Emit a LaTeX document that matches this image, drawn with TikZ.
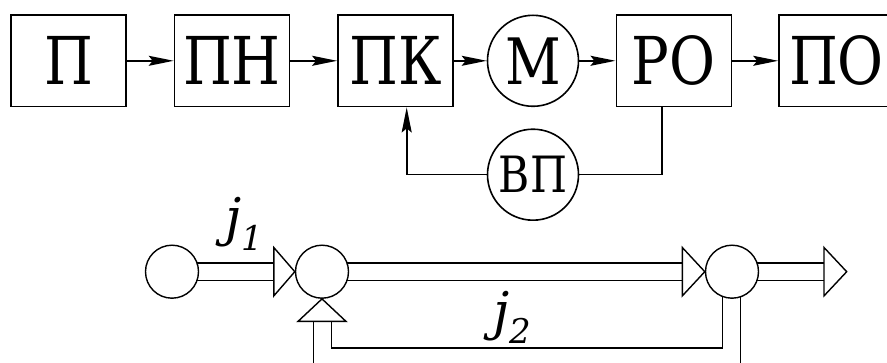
\documentclass[tikz,border=0pt]{standalone}
\usepackage{fontspec}
\setmainfont{DejaVu Serif}
\usetikzlibrary{arrows.meta,backgrounds}
\newcommand{\vstr}[1]{\scalebox{0.85}[1.0]{#1}}
\tikzset{
  blk/.style={draw, line width=1.6pt, minimum width=115pt, minimum height=91.7pt, inner sep=0pt,
              font=\fontsize{66}{66}\selectfont},
  rnd/.style={draw, circle, line width=1.6pt, minimum size=91pt, inner sep=0pt},
  sig/.style={line width=1.6pt, -{Stealth[length=25pt,width=10pt,inset=4pt]}},
  ln/.style={line width=1.4pt},
  dot/.style={draw, circle, line width=1.4pt, minimum size=53pt, inner sep=0pt, fill=white},
  tri/.style={draw, line width=1.4pt, fill=white, line join=miter},
  jlbl/.style={font=\fontsize{52}{52}\selectfont\itshape, anchor=base west, inner sep=0pt}
}
\begin{document}
\begin{tikzpicture}[x=1pt,y=-1pt]
\useasboundingbox (0,0) rectangle (887,363);
% top row
\node[blk] (p)  at (68.5,60.8) {\vstr{П}};
\node[blk] (pn) at (232,60.8) {\vstr{ПН}};
\node[blk] (pk) at (395.4,60.8) {\vstr{ПК}};
\node[rnd, font=\fontsize{64}{64}\selectfont] (m) at (533,60.8) {\vstr{М}};
\node[blk] (ro) at (673.8,60.8) {\vstr{РО}};
\node[blk] (po) at (836.5,60.8) {\vstr{ПО}};
\node[rnd, font=\fontsize{50}{50}\selectfont] (vp) at (533,174.7) {\vstr{ВП}};
\draw[sig] (p) -- (pn);
\draw[sig] (pn) -- (pk);
\draw[sig] (pk) -- (m);
\draw[sig] (m) -- (ro);
\draw[sig] (ro) -- (po);
\draw[line width=1.6pt] ([xshift=-11.8pt]ro.south) |- (vp.east);
\draw[sig] (vp.west) -| ([xshift=11.3pt]pk.south);
% bottom graph
\node[dot] (c1) at (172,271.7) {};
\node[dot] (c2) at (322,271.7) {};
\node[dot] (c3) at (732,271.7) {};
\coordinate (t1b) at ([xshift=-21pt]c2.west);
\coordinate (t2b) at ([xshift=-22.5pt]c3.west);
\coordinate (t3b) at (824,271.7);
\coordinate (t3t) at (846.7,271.7);
\coordinate (t4b) at ([yshift=-22.5pt]c2.south);
\begin{pgfonlayer}{background}
  \draw[ln] ([yshift=8.85pt]c1.center) -- ([yshift=8.85pt]t1b);
  \draw[ln] ([yshift=-8.85pt]c1.center) -- ([yshift=-8.85pt]t1b);
  \draw[ln] ([yshift=8.85pt]c2.center) -- ([yshift=8.85pt]t2b);
  \draw[ln] ([yshift=-8.85pt]c2.center) -- ([yshift=-8.85pt]t2b);
  \draw[ln] ([yshift=8.85pt]c3.center) -- ([yshift=8.85pt]t3b);
  \draw[ln] ([yshift=-8.85pt]c3.center) -- ([yshift=-8.85pt]t3b);
  \draw[ln] ([xshift=9.5pt]t4b) |- ([xshift=-9.3pt,yshift=-76.3pt]c3.center) -- ([xshift=-9.3pt]c3.center);
  \draw[ln] ([xshift=-8.5pt]t4b) -- ++(0,50);
  \draw[ln] ([xshift=8.7pt]c3.center) -- ++(0,100);
\end{pgfonlayer}
\draw[tri] ([yshift=24.2pt]t1b) -- (c2.west) -- ([yshift=-24.2pt]t1b) -- cycle;
\draw[tri] ([yshift=24.2pt]t2b) -- (c3.west) -- ([yshift=-24.2pt]t2b) -- cycle;
\draw[tri] ([yshift=24.2pt]t3b) -- (t3t) -- ([yshift=-24.2pt]t3b) -- cycle;
\draw[tri] ([xshift=-24pt]t4b) -- (c2.south) -- ([xshift=24pt]t4b) -- cycle;
\node[jlbl] (j1) at (225,236) {j\raisebox{-15pt}{\fontsize{34}{34}\selectfont 1}};
\node[jlbl] (j2) at (493,330) {j\raisebox{-14pt}{\fontsize{34}{34}\selectfont 2}};
\end{tikzpicture}
\end{document}
